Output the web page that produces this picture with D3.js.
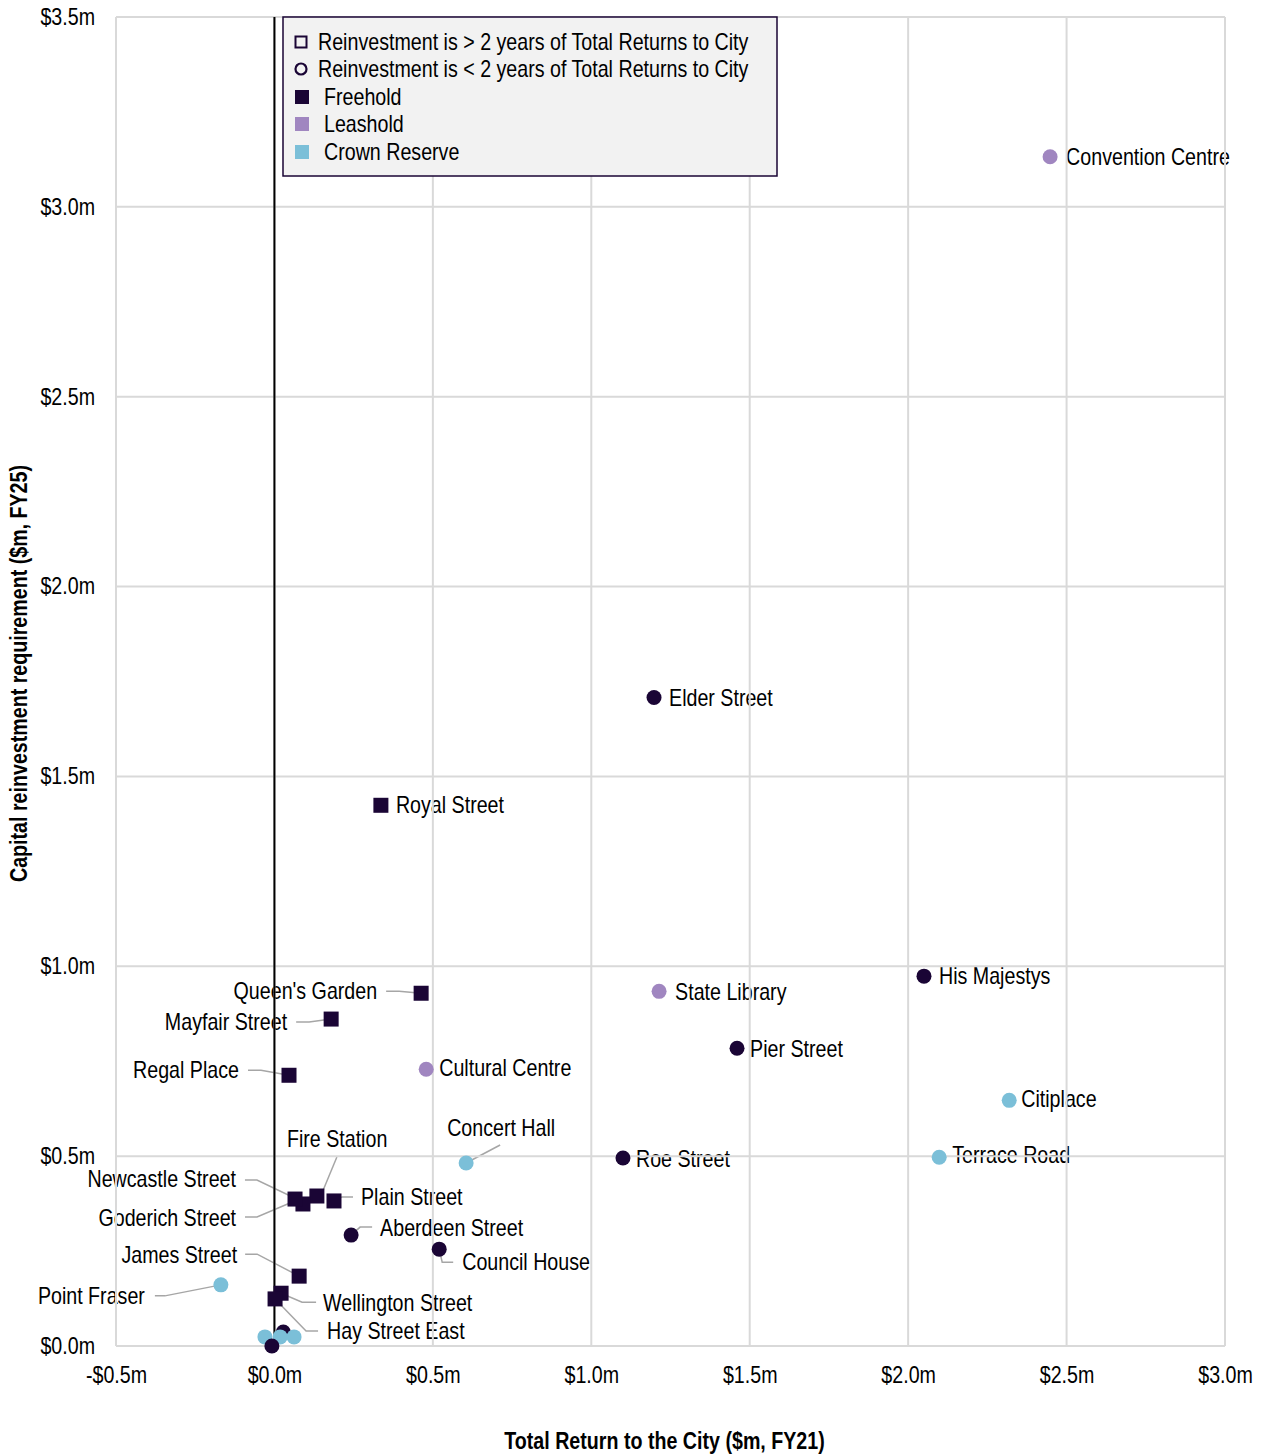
<!DOCTYPE html>
<html><head><meta charset="utf-8">
<script src="https://cdn.jsdelivr.net/npm/d3@7"></script>
<style>
html,body{margin:0;padding:0;background:#fff;}
text{font-family:"Liberation Sans",Arial,sans-serif;}
</style></head>
<body><svg id="chart" width="1262" height="1456"></svg>
<script>
// ---------- data ----------
const names = ["Convention Centre","Elder Street","Royal Street","His Majestys","State Library","Pier Street","Citiplace","Terrace Road","Roe Street","Concert Hall","Cultural Centre","Queen's Garden","Mayfair Street","Regal Place","Fire Station","Newcastle Street","Goderich Street","Plain Street","Aberdeen Street","Council House","James Street","Point Fraser","Wellington Street","Hay Street East","","","","",""];
const returns = [2.448,1.198,0.336,2.050,1.214,1.460,2.319,2.098,1.100,0.605,0.479,0.463,0.179,0.046,0.134,0.090,0.065,0.188,0.242,0.520,0.078,-0.169,0.021,0.002,-0.030,0.028,0.018,0.062,-0.008];
const reinvest = [3.132,1.708,1.424,0.974,0.934,0.784,0.647,0.497,0.495,0.482,0.729,0.929,0.861,0.713,0.395,0.374,0.387,0.382,0.292,0.255,0.184,0.161,0.139,0.124,0.024,0.037,0.024,0.024,0.000];
const tenure = ["Leasehold","Freehold","Freehold","Freehold","Leasehold","Freehold","Crown Reserve","Crown Reserve","Freehold","Crown Reserve","Leasehold","Freehold","Freehold","Freehold","Freehold","Freehold","Freehold","Freehold","Freehold","Freehold","Freehold","Crown Reserve","Freehold","Freehold","Crown Reserve","Freehold","Crown Reserve","Crown Reserve","Freehold"];
const overTwoYears = [false,false,true,false,false,false,false,false,false,false,false,true,true,true,true,true,true,true,false,false,true,false,true,true,false,false,false,false,false];
const xTicks = [-0.5,0,0.5,1.0,1.5,2.0,2.5,3.0];
const yTicks = [0,0.5,1.0,1.5,2.0,2.5,3.0,3.5];
const legendItems = ["Reinvestment is > 2 years of Total Returns to City","Reinvestment is < 2 years of Total Returns to City","Freehold","Leashold","Crown Reserve"];
const xTitle = "Total Return to the City ($m, FY21)";
const yTitle = "Capital reinvestment requirement ($m, FY25)";

// ---------- styles / layout ----------
const colors = {"Freehold":"#1a0535","Leasehold":"#a086c0","Crown Reserve":"#7bbfd8"};
const M = {left:116,right:1225,top:17,bottom:1346};
const FS = 23, SX = 0.855;   // narrow look: font size and horizontal squeeze
const labelLayout = {
 "Convention Centre":{a:"start",dx:16,dy:0},
 "Elder Street":{a:"start",dx:15,dy:0},
 "Royal Street":{a:"start",dx:15,dy:0},
 "His Majestys":{a:"start",dx:15,dy:0},
 "State Library":{a:"start",dx:16,dy:1},
 "Pier Street":{a:"start",dx:13,dy:1},
 "Citiplace":{a:"start",dx:12,dy:-1},
 "Terrace Road":{a:"start",dx:13,dy:-2},
 "Roe Street":{a:"start",dx:13,dy:1},
 "Cultural Centre":{a:"start",dx:13,dy:-1},
 "Concert Hall":{a:"start",dx:-19,dy:-35,lead:[[0,0],[34,-18]]},
 "Queen's Garden":{a:"end",dx:-44,dy:-2,lead:[[0,0],[-22,-2],[-35,-2]]},
 "Mayfair Street":{a:"end",dx:-44,dy:3,lead:[[0,0],[-22,3],[-35,3]]},
 "Regal Place":{a:"end",dx:-50,dy:-5,lead:[[0,0],[-28,-5],[-41,-5]]},
 "Fire Station":{a:"start",dx:-30,dy:-57,lead:[[3,2],[20,-39]]},
 "Newcastle Street":{a:"end",dx:-67,dy:-25,lead:[[0,-2],[-46,-24],[-58,-24]]},
 "Goderich Street":{a:"end",dx:-59,dy:19,lead:[[2,1],[-38,18],[-50,18]]},
 "Plain Street":{a:"start",dx:27,dy:-4,lead:[[0,0],[8,-4],[19,-4]]},
 "Aberdeen Street":{a:"start",dx:29,dy:-7,lead:[[0,0],[9,-8],[21,-8]]},
 "Council House":{a:"start",dx:23,dy:13,lead:[[0,0],[3,13],[14,13]]},
 "James Street":{a:"end",dx:-62,dy:-21,lead:[[0,0],[-42,-22],[-54,-22]]},
 "Point Fraser":{a:"end",dx:-76,dy:11,lead:[[0,0],[-56,11],[-66,11]]},
 "Wellington Street":{a:"start",dx:42,dy:10,lead:[[0,0],[21,9],[35,9]]},
 "Hay Street East":{a:"start",dx:52,dy:32,lead:[[0,0],[31,32],[43,32]]}
};

const svg = d3.select("#chart");
const x = d3.scaleLinear().domain([xTicks[0],xTicks[xTicks.length-1]]).range([M.left,M.right]);
const y = d3.scaleLinear().domain([yTicks[0],yTicks[yTicks.length-1]]).range([M.bottom,M.top]);
const fmt = v => (v<0?"-":"")+"$"+Math.abs(v).toFixed(1)+"m";

const data = names.map((n,i)=>({name:n,x:returns[i],y:reinvest[i],t:tenure[i],sq:overTwoYears[i]}));

function narrowText(g, tx, ty, str, anchor, opts={}){
  return g.append("text").attr("transform",`translate(${tx},${ty})${opts.rot?` rotate(${opts.rot})`:""} scale(${SX},1)`)
    .attr("text-anchor",anchor).attr("dy",opts.dy||"0.35em").attr("font-size",FS)
    .attr("font-weight",opts.bold?"bold":null).attr("fill","#000").text(str);
}

// labels & leaders
const gLab = svg.append("g");
data.filter(d=>d.name && labelLayout[d.name]).forEach(d=>{
  const L = labelLayout[d.name], px=x(d.x), py=y(d.y);
  if(L.lead){
    gLab.append("polyline").attr("points",L.lead.map(p=>[px+p[0],py+p[1]].join(",")).join(" "))
      .attr("fill","none").attr("stroke","#a6a6a6").attr("stroke-width",1.5);
  }
  narrowText(gLab, px+L.dx, py+L.dy, d.name, L.a);
});

// grid
const gGrid = svg.append("g");
gGrid.selectAll("line.v").data(xTicks).join("line").attr("x1",d=>x(d)).attr("x2",d=>x(d))
  .attr("y1",M.top).attr("y2",M.bottom).attr("stroke","#d9d9d9").attr("stroke-width",2);
gGrid.selectAll("line.h").data(yTicks).join("line").attr("y1",d=>y(d)).attr("y2",d=>y(d))
  .attr("x1",M.left).attr("x2",M.right).attr("stroke","#d9d9d9").attr("stroke-width",2);
svg.append("line").attr("x1",x(0)).attr("x2",x(0)).attr("y1",M.top).attr("y2",M.bottom)
  .attr("stroke","#000").attr("stroke-width",2);

// axes
const xa = svg.append("g").attr("transform",`translate(0,${M.bottom})`)
  .call(d3.axisBottom(x).tickValues(xTicks).tickFormat(fmt).tickSize(0).tickPadding(21));
const ya = svg.append("g").attr("transform",`translate(${M.left},0)`)
  .call(d3.axisLeft(y).tickValues(yTicks).tickFormat(fmt).tickSize(0).tickPadding(21));
[xa,ya].forEach(a=>{a.select(".domain").remove();
  a.selectAll("text").attr("font-size",FS).attr("fill","#000")
   .attr("font-family","'Liberation Sans',Arial,sans-serif");});
xa.selectAll("text").attr("transform",`scale(${SX},1)`);
ya.selectAll("text").attr("x",-21/SX).attr("transform",`scale(${SX},1)`);

// points
const gPts = svg.append("g");
data.forEach(d=>{
  const px=x(d.x), py=y(d.y);
  if(d.sq){
    gPts.append("rect").attr("x",px-7.5).attr("y",py-7.5).attr("width",15).attr("height",15).attr("fill",colors[d.t]);
  } else {
    gPts.append("circle").attr("cx",px).attr("cy",py).attr("r",7.5).attr("fill",colors[d.t]);
  }
});

// titles
narrowText(svg,(M.left+M.right)/2-6,1449,xTitle,"middle",{bold:true,dy:"0"});
narrowText(svg,27,(M.top+M.bottom)/2-8,yTitle,"middle",{bold:true,dy:"0",rot:-90});

// legend
const lg = svg.append("g");
lg.append("rect").attr("x",283).attr("y",17).attr("width",494).attr("height",159)
  .attr("fill","#f2f2f2").attr("stroke","#1a0535").attr("stroke-width",1.5);
const rowY = [42,69,97,124,152];
lg.append("rect").attr("x",295.5).attr("y",rowY[0]-5.5).attr("width",11).attr("height",11)
  .attr("fill","none").attr("stroke","#1a0535").attr("stroke-width",2);
lg.append("circle").attr("cx",301).attr("cy",rowY[1]).attr("r",5.5).attr("fill","none").attr("stroke","#1a0535").attr("stroke-width",2.2);
const legCols = [colors["Freehold"],colors["Leasehold"],colors["Crown Reserve"]];
legCols.forEach((c,i)=>{
  lg.append("rect").attr("x",295).attr("y",rowY[i+2]-7).attr("width",14).attr("height",14).attr("fill",c);
});
legendItems.forEach((t,i)=>{ narrowText(lg, i<2?318:324, rowY[i], t, "start"); });
</script></body></html>
